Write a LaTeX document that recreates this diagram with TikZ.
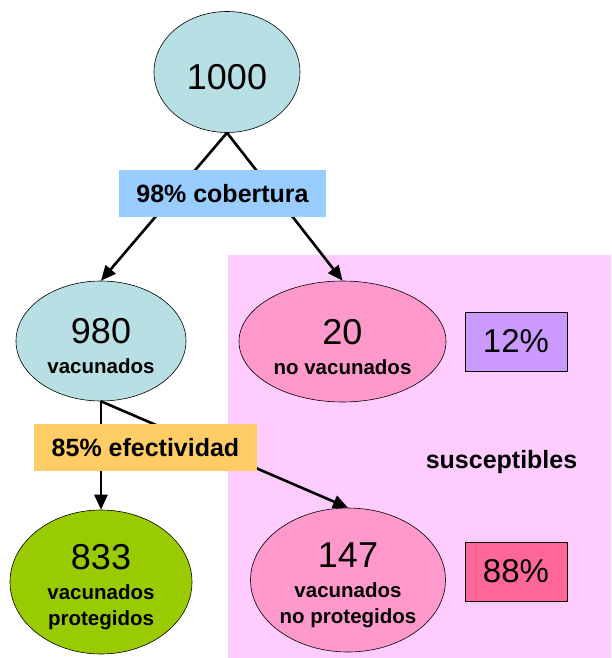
\documentclass[tikz,border=0pt]{standalone}
\usepackage{fontspec}
\setmainfont{Liberation Sans}
\usetikzlibrary{shapes.geometric,positioning,calc,arrows.meta}
\definecolor{celeste}{HTML}{B8E0E4}
\definecolor{verde}{HTML}{99CC00}
\definecolor{rosa}{HTML}{FF99CC}
\definecolor{rosaclaro}{HTML}{FFCCFF}
\definecolor{azulcaja}{HTML}{99CCFF}
\definecolor{naranja}{HTML}{FFCC66}
\definecolor{lila}{HTML}{CC99FF}
\definecolor{fresa}{HTML}{FF6699}
\newcommand{\cifra}{\mdseries\fontsize{36}{40}\selectfont\rule{0pt}{36pt}}
\tikzset{GROUP/.style={ellipse,draw,semithick,align=center,inner sep=0pt,font=\bfseries\fontsize{20.5}{26}\selectfont}}
\tikzset{RATE/.style={rectangle,inner sep=0pt,align=center,font=\bfseries\fontsize{25}{30}\selectfont}}
\tikzset{SHARE/.style={rectangle,draw,semithick,minimum width=102pt,minimum height=59pt,font=\fontsize{33}{36}\selectfont}}
\tikzset{ARROW/.style={line width=2.6pt,-{Triangle[length=15pt,width=13pt]}}}
\begin{document}
\begin{tikzpicture}[x=1pt,y=-1pt]

\useasboundingbox (0,0) rectangle (611,658);
\fill[rosaclaro] (228,255) rectangle (611,658);

\node[GROUP, fill=celeste, minimum width=146pt, minimum height=121pt] (n_total) at (227,72) {{\cifra 1000}};
\node[GROUP, fill=celeste, minimum width=170pt, minimum height=120pt] (n_vac) at (101,341) {{\cifra 980}\\[4pt]vacunados};
\node[GROUP, fill=rosa, minimum width=207pt, minimum height=121pt] (n_novac) at (342.5,341.5) {{\cifra 20}\\[4pt]no vacunados};
\node[GROUP, fill=verde, minimum width=182pt, minimum height=144pt] (n_prot) at (101,582) {{\cifra 833}\\[4pt]vacunados\\protegidos};
\node[GROUP, fill=rosa, minimum width=195pt, minimum height=144pt] (n_noprot) at (348,580) {{\cifra 147}\\[4pt]vacunados\\no protegidos};

\draw[ARROW] (n_total.south) -- (n_vac.north);
\draw[ARROW] (n_total.south) -- (n_novac.north);
\draw[ARROW] (n_vac.south) -- (n_prot.north);
\draw[ARROW] (n_vac.south) -- (n_noprot.north);

\node[RATE, fill=azulcaja, minimum width=207pt, minimum height=47pt] (n_cobertura) at (222.5,193.5) {98\% cobertura};
\node[RATE, fill=naranja, minimum width=223pt, minimum height=47pt] (n_efectividad) at (145.5,447.5) {85\% efectividad};

\node[SHARE, fill=lila] (n_share_novac) at (516,341.5) {12\%};
\node[SHARE, fill=fresa] (n_share_noprot) at (516,571.5) {88\%};
\node[RATE] (n_susceptibles) at (501.5,462) {susceptibles};

\end{tikzpicture}
\end{document}
